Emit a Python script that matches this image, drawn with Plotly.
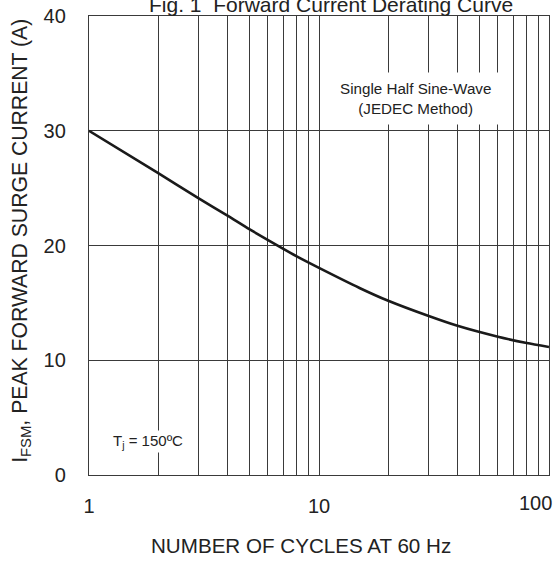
import plotly.graph_objects as go

# Data
cycles = [1, 2, 3, 4, 5, 7, 8, 10, 15, 20, 30, 40, 60, 80, 100]
current = [30.0, 26.3, 24.1, 22.6, 21.4, 19.7, 19.05, 18.05, 16.3, 15.18, 13.85, 13.0, 12.05, 11.5, 11.15]

grid_x = [1, 2, 3, 4, 5, 6, 7, 8, 9, 10, 20, 30, 40, 50, 60, 70, 80, 90, 100]
grid_x_text = ["1", "", "", "", "", "", "", "", "", "10", "", "", "", "", "", "", "", "", ""]
y_ticks = [0, 10, 20, 30, 40]

FONT = "Arial, Liberation Sans, sans-serif"
GRID = "#3a3a3a"
TXT = "#222"

fig = go.Figure()
fig.add_trace(go.Scatter(
    x=cycles, y=current, mode="lines",
    line=dict(color="#1a1a1a", width=2.6, shape="spline", smoothing=0.6),
    showlegend=False, hoverinfo="skip",
))

fig.update_layout(
    width=554, height=562,
    margin=dict(l=89, r=5, t=16, b=87),
    paper_bgcolor="white", plot_bgcolor="white",
    font=dict(family=FONT, size=20, color=TXT),
    xaxis=dict(
        type="log", range=[0, 2],
        tickvals=grid_x, ticktext=grid_x_text,
        showgrid=True, gridcolor=GRID, gridwidth=1.2,
        showline=True, linecolor=GRID, linewidth=1.4, mirror=True,
        ticks="", ticklabelstandoff=13,
        tickfont=dict(size=20, color=TXT),
        zeroline=False,
    ),
    yaxis=dict(
        range=[0, 40], tickvals=y_ticks,
        showgrid=True, gridcolor=GRID, gridwidth=1.2,
        showline=True, linecolor=GRID, linewidth=1.4, mirror=True,
        ticks="", ticklabelstandoff=18,
        tickfont=dict(size=20, color=TXT),
        zeroline=False,
    ),
    annotations=[
        dict(text="Fig. 1\u00a0 Forward Current Derating Curve", xref="paper", yref="paper",
             x=0.526, y=1, yanchor="bottom", xanchor="center", yshift=-2,
             showarrow=False, font=dict(size=21, color=TXT)),
        dict(text="100", xref="x", yref="paper", x=2, y=0, xanchor="right", yanchor="top",
             xshift=5, yshift=-15, showarrow=False, font=dict(size=20, color=TXT)),
        dict(text="NUMBER OF CYCLES AT 60 Hz", xref="paper", yref="paper",
             x=0.461, y=0, yanchor="middle", xanchor="center", yshift=-70,
             showarrow=False, font=dict(size=20.6, color=TXT)),
        dict(text="I<sub>FSM</sub>, PEAK FORWARD SURGE CURRENT (A)", xref="paper", yref="paper",
             x=-0.148, y=0.51, xanchor="center", yanchor="middle", textangle=-90,
             showarrow=False, font=dict(size=21.2, color=TXT)),
        dict(text="Single Half Sine-Wave<br>(JEDEC Method)", xref="paper", yref="paper",
             x=0.709, y=0.821, xanchor="center", yanchor="middle",
             showarrow=False, bgcolor="white", borderpad=7,
             font=dict(size=15.2, color=TXT)),
        dict(text="T<sub>j</sub> = 150ºC", xref="paper", yref="paper",
             x=0.129, y=0.074, xanchor="center", yanchor="middle",
             showarrow=False, bgcolor="white", borderpad=1,
             font=dict(size=15, color=TXT)),
    ],
)

fig.write_html("out.html")
